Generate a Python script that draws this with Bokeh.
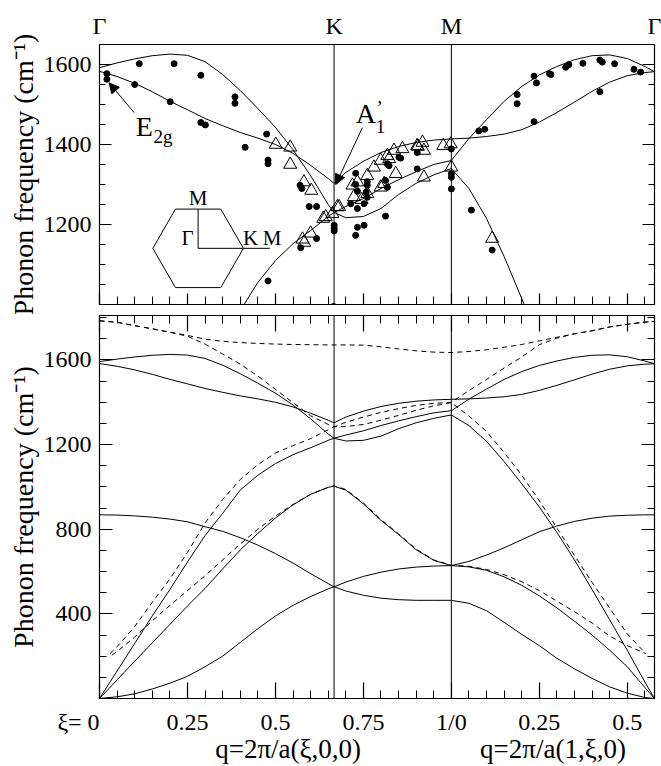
from bokeh.plotting import figure
from bokeh.models import (Range1d, FixedTicker, LinearAxis, Label, Span, Arrow,
                          NormalHead)
from bokeh.layouts import column
from bokeh.embed import file_html
from bokeh.resources import INLINE

FONT = "Liberation Serif"

# ---------------- data ----------------
sym_x = [0.0, 0.6667, 1.0, 1.5773]
sym_labels = ["Γ", "K", "M", "Γ"]

x_major = [0, 0.25, 0.5, 0.75, 1.0, 1.25, 1.5]
x_major_labels = ["ξ= 0" + "\u00a0" * 7, "0.25", "0.5", "0.75", "1/0", "0.25", "0.5"]
x_minor = [0.05, 0.1, 0.15, 0.2, 0.3, 0.35, 0.4, 0.45, 0.55, 0.6, 0.65, 0.7,
           0.8, 0.85, 0.9, 0.95, 1.05, 1.1, 1.15, 1.2, 1.3, 1.35, 1.4, 1.45, 1.55]
q_label_pos = [0.536, 1.289]
q_labels = ["q=2π/a(ξ,0,0)", "q=2π/a(1,ξ,0)"]

# sample positions along the path Γ-K-M-Γ
x_gk = [0.0, 0.05, 0.1, 0.15, 0.2, 0.25, 0.3, 0.35, 0.4, 0.45, 0.5, 0.55, 0.6, 0.65, 0.6667]
x_km = [0.7, 0.75, 0.8, 0.85, 0.9, 0.95, 1.0]
x_mg = [1.05, 1.1, 1.15, 1.2, 1.25, 1.3, 1.35, 1.4, 1.45, 1.5, 1.55, 1.5774]

# solid (calculated) branches : Γ-K | K-M | M-Γ
s1 = [0, 8, 22, 45, 72, 105, 150, 200, 265, 330, 390, 440, 482, 518, 528,
      550, 577, 597, 612, 621, 626, 628,
      648, 678, 712, 750, 788, 815, 837, 852, 862, 866, 868, 868]
s2 = [868, 867, 863, 857, 848, 835, 812, 790, 760, 725, 685, 640, 590, 543, 528,
      508, 488, 474, 467, 464, 464, 464,
      450, 415, 360, 303, 250, 190, 140, 95, 55, 25, 5, 0]
s3 = [0, 88, 176, 263, 350, 437, 520, 612, 702, 780, 853, 915, 965, 998, 1003,
      985, 920, 842, 775, 703, 653, 628,
      622, 606, 575, 535, 485, 428, 365, 300, 228, 150, 52, 0]
s4 = [0, 130, 260, 390, 515, 645, 770, 875, 985, 1055, 1110, 1152, 1185, 1220, 1230,
      1245, 1265, 1290, 1312, 1332, 1350, 1360,
      1415, 1462, 1508, 1545, 1574, 1595, 1612, 1622, 1624, 1615, 1595, 1582]
s5 = [1592, 1604, 1614, 1622, 1626, 1623, 1607, 1575, 1535, 1490, 1443, 1387, 1322, 1250, 1230,
      1217, 1220, 1240, 1275, 1303, 1324, 1340,
      1290, 1215, 1120, 1015, 905, 785, 655, 515, 372, 228, 78, 0]
s6 = [1583, 1570, 1553, 1532, 1508, 1487, 1465, 1447, 1430, 1416, 1400, 1378, 1348, 1315, 1303,
      1330, 1358, 1380, 1395, 1405, 1411, 1414,
      1416, 1420, 1426, 1437, 1456, 1480, 1506, 1533, 1556, 1572, 1580, 1582]

# dashed branches
d1 = [1785, 1778, 1762, 1747, 1731, 1716, 1698, 1688, 1682, 1678, 1675, 1673, 1672, 1671, 1671,
      1671, 1670, 1662, 1652, 1643, 1637, 1635,
      1640, 1648, 1660, 1673, 1690, 1707, 1723, 1738, 1756, 1768, 1779, 1782]
d2 = [1785, 1778, 1762, 1747, 1731, 1712, 1675, 1628, 1580, 1524, 1461, 1398, 1336, 1295, 1284,
      1305, 1330, 1352, 1370, 1385, 1395, 1400,
      1455, 1508, 1562, 1614, 1672, 1703, 1724, 1738, 1756, 1768, 1779, 1782]
x_d3_start = [0.03]
x_d4_start = [0.035]
x_d_end = [1.552]
d3 = [212, 245, 340, 455, 565, 690, 830, 940, 1035, 1105, 1160, 1195, 1228, 1270, 1284,
      1285, 1295, 1315, 1338, 1362, 1383, 1398,
      1335, 1262, 1163, 1055, 935, 806, 676, 549, 427, 305, 213]
d4 = [205, 222, 290, 367, 440, 510, 580, 655, 730, 800, 862, 917, 965, 998, 1005,
      988, 924, 846, 778, 706, 655, 630,
      625, 610, 585, 552, 510, 460, 410, 357, 295, 250, 213]

# experimental points (top panel)
circ_x = [0.021, 0.021, 0.100, 0.113, 0.201, 0.212, 0.288, 0.288, 0.301, 0.385, 0.385,
          0.414, 0.475, 0.479, 0.479, 0.479, 0.570, 0.575, 0.596, 0.617, 0.572, 0.617,
          0.667, 0.667, 0.667,
          0.728, 0.728, 0.733, 0.761, 0.758, 0.752, 0.733, 0.728, 0.733, 0.752, 0.813,
          0.813, 0.823, 0.856, 0.903, 0.903, 0.761, 0.714, 0.851, 0.818, 0.761, 0.818,
          1.0, 1.0, 1.0, 1.0,
          1.057, 1.116, 1.078, 1.095, 1.187, 1.187, 1.235, 1.242, 1.235, 1.279, 1.283,
          1.325, 1.334, 1.374, 1.422, 1.429, 1.422, 1.464, 1.519, 1.538]
circ_f = [1577, 1563, 1550, 1602, 1507, 1602, 1573, 1455, 1449, 1519, 1503,
          1393, 1426, 1361, 1352, 1059, 1298, 1290, 1245, 1245, 1142, 1165,
          1198, 1190, 1184,
          1328, 1300, 1283, 1307, 1281, 1252, 1240, 1173, 1193, 1198, 1221,
          1310, 1347, 1366, 1380, 1339, 1268, 1252, 1368, 1352, 1298, 1293,
          1389, 1327, 1318, 1289,
          1236, 1136, 1434, 1438, 1525, 1502, 1571, 1554, 1457, 1577, 1575,
          1593, 1600, 1603, 1611, 1606, 1532, 1602, 1588, 1581]
tri_x = [0.501, 0.542, 0.542, 0.581, 0.602, 0.577, 0.600, 0.636, 0.662, 0.643, 0.681, 0.582,
         0.719, 0.733, 0.723, 0.761, 0.780, 0.799, 0.818, 0.823, 0.842, 0.861, 0.903,
         0.918, 0.922, 0.977, 0.998, 1.0, 0.922, 0.799, 0.809, 0.761, 0.676, 0.837,
         0.905, 0.745, 1.116]
tri_f = [1400, 1393, 1350, 1306, 1285, 1163, 1178, 1215, 1227, 1219, 1244, 1155,
         1298, 1306, 1269, 1322, 1343, 1360, 1372, 1364, 1327, 1389, 1397,
         1405, 1385, 1397, 1401, 1343, 1318, 1293, 1302, 1277, 1244, 1385,
         1395, 1262, 1165]

# ---------------- helpers ----------------
x_path = x_gk + x_km + x_mg
x_d3 = x_d3_start + x_gk[1:] + x_km + x_mg[:-2] + x_d_end
x_d4 = x_d4_start + x_gk[1:] + x_km + x_mg[:-2] + x_d_end
X_RANGE = (0, 1.5774)
YLABEL = "Phonon frequency (cm⁻¹)"


def plain_axis(ticks, labels=None, size="0px", standoff=0, tin=0, tmin=0, minor=None):
    ax = LinearAxis(ticker=FixedTicker(ticks=ticks, minor_ticks=minor or []),
                    major_tick_in=tin, major_tick_out=0, minor_tick_in=tmin, minor_tick_out=0,
                    major_tick_line_width=1.2,
                    major_label_text_font=FONT, major_label_text_font_size=size,
                    major_label_text_color="black", major_label_standoff=standoff,
                    axis_line_color="black" if tin else None)
    if labels is not None:
        ax.major_label_overrides = {t: l for t, l in zip(ticks, labels)}
    return ax


def style_fig(p, ymaj, ymin, xtick_in, xmin_in, ytick_in, ymin_in):
    p.grid.visible = False
    p.outline_line_color = "black"
    p.outline_line_width = 1.2
    p.background_fill_color = "white"
    p.border_fill_color = "white"
    for ax in p.yaxis:
        ax.ticker = FixedTicker(ticks=ymaj, minor_ticks=ymin)
        ax.major_tick_in = ytick_in
        ax.major_tick_out = 0
        ax.minor_tick_in = ymin_in
        ax.minor_tick_out = 0
        ax.axis_line_color = "black"
        ax.major_tick_line_color = "black"
        ax.minor_tick_line_color = "black"
        ax.major_tick_line_width = 1.2
        ax.major_label_text_font = FONT
        ax.major_label_text_font_size = "24px"
        ax.major_label_text_color = "black"
        ax.major_label_standoff = 8
        ax.axis_label = YLABEL
        ax.axis_label_text_font = FONT
        ax.axis_label_text_font_style = "normal"
        ax.axis_label_text_font_size = "28px"
        ax.axis_label_text_color = "black"
        ax.axis_label_standoff = 2
    for ax in p.xaxis:
        ax.ticker = FixedTicker(ticks=x_major, minor_ticks=x_minor)
        ax.major_tick_in = xtick_in
        ax.major_tick_out = 0
        ax.minor_tick_in = xmin_in
        ax.minor_tick_out = 0
        ax.major_tick_line_width = 1.2
        ax.axis_line_color = "black"
        ax.major_tick_line_color = "black"
        ax.minor_tick_line_color = "black"
    p.add_layout(plain_axis(ymaj, tin=ytick_in, tmin=ymin_in, minor=ymin), "right")
    for xs in sym_x[1:3]:
        p.add_layout(Span(location=xs, dimension="height", line_color="black", line_width=1))


def txt(p, x, y, t, size, align="left"):
    p.add_layout(Label(x=x, y=y, text=t, text_align=align, text_baseline="middle",
                       text_font=FONT, text_font_size=size, text_color="black"))


# ---------------- top panel ----------------
p1 = figure(width=661, height=314, x_range=Range1d(*X_RANGE), y_range=Range1d(1000, 1650),
            output_backend="svg", toolbar_location=None,
            min_border_left=99, min_border_right=7, min_border_top=44, min_border_bottom=10)
style_fig(p1, [1200, 1400, 1600], list(range(1050, 1651, 50)), 11, 8, 12, 6)
p1.xaxis.major_label_text_font_size = "0px"
p1.xaxis.major_label_standoff = 0
p1.add_layout(plain_axis(sym_x, sym_labels, size="24px", standoff=6), "above")

for s in (s1, s2, s3, s4, s5, s6):
    p1.line(x_path, s, line_color="black", line_width=1)
p1.scatter(circ_x, circ_f, marker="circle", size=6, color="black")
p1.scatter(tri_x, tri_f, marker="triangle", size=13, fill_color=None,
           line_color="black", line_width=1)

# E2g annotation
txt(p1, 0.1031, 1444, "E", "28px")
txt(p1, 0.1534, 1419, "2g", "19px")
p1.add_layout(Arrow(end=NormalHead(size=10, fill_color="black", line_color="black"),
                    x_start=0.0983, y_start=1480, x_end=0.0273, y_end=1554,
                    line_color="black", line_width=1))
# A1' annotation
txt(p1, 0.7281, 1478, "A", "28px")
txt(p1, 0.785, 1444, "1", "19px")
txt(p1, 0.787, 1492, "’", "19px")
p1.add_layout(Arrow(end=NormalHead(size=10, fill_color="black", line_color="black"),
                    x_start=0.7472, y_start=1442, x_end=0.6713, y_end=1300,
                    line_color="black", line_width=1))

# Brillouin-zone inset
inset_cx, inset_cy, inset_rx, inset_ry = 0.2803, 1140.4, 0.1288, 98.1
hex_x = [inset_cx - inset_rx / 2, inset_cx + inset_rx / 2, inset_cx + inset_rx,
         inset_cx + inset_rx / 2, inset_cx - inset_rx / 2, inset_cx - inset_rx]
hex_y = [inset_cy + inset_ry, inset_cy + inset_ry, inset_cy,
         inset_cy - inset_ry, inset_cy - inset_ry, inset_cy]
p1.patch(hex_x, hex_y, fill_color=None, line_color="black", line_width=1)
p1.line([inset_cx, inset_cx], [inset_cy, inset_cy + inset_ry], line_color="black", line_width=1)
p1.line([inset_cx, inset_cx + 1.58 * inset_rx], [inset_cy, inset_cy], line_color="black", line_width=1)
txt(p1, inset_cx, inset_cy + inset_ry + 29, "M", "21px", "center")
txt(p1, inset_cx - 0.0303, inset_cy + 27, "Γ", "21px", "center")
txt(p1, inset_cx + 1.16 * inset_rx, inset_cy + 27, "K", "21px", "center")
txt(p1, inset_cx + 1.63 * inset_rx, inset_cy + 27, "M", "21px", "center")

# ---------------- bottom panel ----------------
p2 = figure(width=661, height=452, x_range=Range1d(*X_RANGE), y_range=Range1d(0, 1810),
            output_backend="svg", toolbar_location=None,
            min_border_left=99, min_border_right=7, min_border_top=1, min_border_bottom=60)
style_fig(p2, [400, 800, 1200, 1600], [v for v in range(100, 1801, 100) if v % 400], 16, 8, 13, 7)
xa = p2.below[0]
xa.major_label_overrides = {t: l for t, l in zip(x_major, x_major_labels)}
xa.major_label_text_font = FONT
xa.major_label_text_font_size = "24px"
xa.major_label_text_color = "black"
xa.major_label_standoff = 10
p2.add_layout(plain_axis(x_major, tin=16, tmin=8, minor=x_minor), "above")
p2.add_layout(plain_axis(q_label_pos, q_labels, size="27px", standoff=-4), "below")

for s in (s1, s2, s3, s4, s5, s6):
    p2.line(x_path, s, line_color="black", line_width=1)
for s in (d1, d2):
    p2.line(x_path, s, line_color="black", line_width=1, line_dash="5 4")
p2.line(x_d3, d3, line_color="black", line_width=1, line_dash="5 4")
p2.line(x_d4, d4, line_color="black", line_width=1, line_dash="5 4")

layout = column(p1, p2)
open("out.html", "w").write(file_html(layout, INLINE))
